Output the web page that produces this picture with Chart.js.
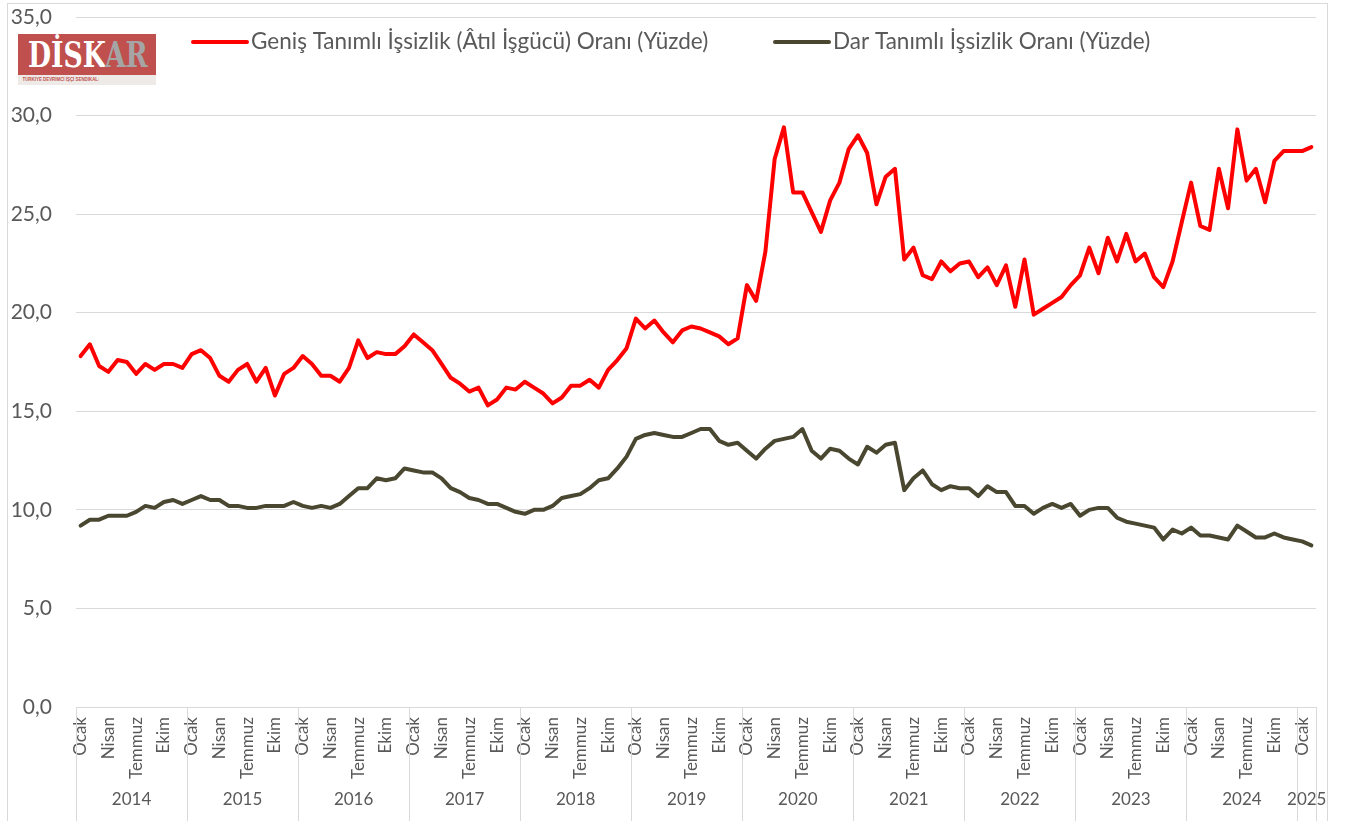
<!DOCTYPE html>
<html lang="tr">
<head>
  <meta charset="UTF-8" />
  <title>Geniş ve Dar Tanımlı İşsizlik Oranı</title>
  <style>
    html, body { margin: 0; padding: 0; background: #fff; }
    #wrap { position: relative; width: 1351px; height: 821px; overflow: hidden; }
    #frame {
      position: absolute; left: 7px; top: 3px; width: 1321px; height: 860px;
      border: 1px solid #d9d9d9; box-sizing: border-box;
    }
    #chart { position: absolute; left: 0; top: 0; }
    #logo {
      position: absolute; left: 18px; top: 34px; width: 138px; height: 51px;
      background: #eeeae8; overflow: hidden;
    }
    #logo .top {
      height: 41px; background: #c0504d; overflow: hidden;
      font-family: "DejaVu Serif", serif; font-weight: bold; font-size: 36px;
      line-height: 41px; white-space: nowrap;
    }
    #logo .top span.w {
      display: inline-block; transform: scaleX(0.74); transform-origin: left center;
      margin-left: 10px; color: #fff;
    }
    #logo .top span.ar { color: #a5a5a5; }
    #logo .sub {
      height: 10px; line-height: 10px; white-space: nowrap; overflow: hidden;
      font-family: "Liberation Sans", sans-serif; font-size: 8px; color: #c0504d;
      transform: scale(0.55, 0.7); transform-origin: 10px center; font-weight: bold;
    }
  </style>
</head>
<body>
  <div id="wrap">
    <div id="frame"></div>
    <canvas id="chart" width="1351" height="821"></canvas>
    <div id="logo">
      <div class="top"><span class="w">DİSK<span class="ar">AR</span></span></div>
      <div class="sub">TÜRKİYE DEVRİMCİ İŞÇİ SENDİKALARI KONFEDERASYONU ARAŞTIRMA MERKEZİ</div>
    </div>
  </div>

  <script src="https://cdn.jsdelivr.net/npm/chart.js"></script>
  <script>
    const years = [2014, 2015, 2016, 2017, 2018, 2019, 2020, 2021, 2022, 2023, 2024, 2025];
    const monthsPerYear = [12, 12, 12, 12, 12, 12, 12, 12, 12, 12, 12, 2];
    const monthNames = ['Ocak', 'Şubat', 'Mart', 'Nisan', 'Mayıs', 'Haziran',
      'Temmuz', 'Ağustos', 'Eylül', 'Ekim', 'Kasım', 'Aralık'];
    const shownMonths = ['Ocak', 'Nisan', 'Temmuz', 'Ekim'];

    // Geniş tanımlı işsizlik (atıl işgücü) oranı, %
    const genis = [
      17.8, 18.4, 17.3, 17.0, 17.6, 17.5, 16.9, 17.4, 17.1, 17.4, 17.4, 17.2,
      17.9, 18.1, 17.7, 16.8, 16.5, 17.1, 17.4, 16.5, 17.2, 15.8, 16.9, 17.2,
      17.8, 17.4, 16.8, 16.8, 16.5, 17.2, 18.6, 17.7, 18.0, 17.9, 17.9, 18.3,
      18.9, 18.5, 18.1, 17.4, 16.7, 16.4, 16.0, 16.2, 15.3, 15.6, 16.2, 16.1,
      16.5, 16.2, 15.9, 15.4, 15.7, 16.3, 16.3, 16.6, 16.2, 17.1, 17.6, 18.2,
      19.7, 19.2, 19.6, 19.0, 18.5, 19.1, 19.3, 19.2, 19.0, 18.8, 18.4, 18.7,
      21.4, 20.6, 23.1, 27.8, 29.4, 26.1, 26.1, 25.1, 24.1, 25.7, 26.6, 28.3,
      29.0, 28.1, 25.5, 26.9, 27.3, 22.7, 23.3, 21.9, 21.7, 22.6, 22.1, 22.5,
      22.6, 21.8, 22.3, 21.4, 22.4, 20.3, 22.7, 19.9, 20.2, 20.5, 20.8, 21.4,
      21.9, 23.3, 22.0, 23.8, 22.6, 24.0, 22.6, 23.0, 21.8, 21.3, 22.6, 24.6,
      26.6, 24.4, 24.2, 27.3, 25.3, 29.3, 26.7, 27.3, 25.6, 27.7, 28.2, 28.2,
      28.2, 28.4
    ];

    // Dar tanımlı işsizlik oranı, %
    const dar = [
      9.2, 9.5, 9.5, 9.7, 9.7, 9.7, 9.9, 10.2, 10.1, 10.4, 10.5, 10.3,
      10.5, 10.7, 10.5, 10.5, 10.2, 10.2, 10.1, 10.1, 10.2, 10.2, 10.2, 10.4,
      10.2, 10.1, 10.2, 10.1, 10.3, 10.7, 11.1, 11.1, 11.6, 11.5, 11.6, 12.1,
      12.0, 11.9, 11.9, 11.6, 11.1, 10.9, 10.6, 10.5, 10.3, 10.3, 10.1, 9.9,
      9.8, 10.0, 10.0, 10.2, 10.6, 10.7, 10.8, 11.1, 11.5, 11.6, 12.1, 12.7,
      13.6, 13.8, 13.9, 13.8, 13.7, 13.7, 13.9, 14.1, 14.1, 13.5, 13.3, 13.4,
      13.0, 12.6, 13.1, 13.5, 13.6, 13.7, 14.1, 13.0, 12.6, 13.1, 13.0, 12.6,
      12.3, 13.2, 12.9, 13.3, 13.4, 11.0, 11.6, 12.0, 11.3, 11.0, 11.2, 11.1,
      11.1, 10.7, 11.2, 10.9, 10.9, 10.2, 10.2, 9.8, 10.1, 10.3, 10.1, 10.3,
      9.7, 10.0, 10.1, 10.1, 9.6, 9.4, 9.3, 9.2, 9.1, 8.5, 9.0, 8.8,
      9.1, 8.7, 8.7, 8.6, 8.5, 9.2, 8.9, 8.6, 8.6, 8.8, 8.6, 8.5,
      8.4, 8.2
    ];

    const labels = [];
    years.forEach((y, k) => {
      for (let m = 0; m < monthsPerYear[k]; m++) labels.push(monthNames[m] + ' ' + y);
    });

    const FONT = 'Lato, "Open Sans", sans-serif';
    const TEXT = '#595959';
    const GRID = '#d9d9d9';

    // legend drawn inside the plot, like the original
    const legendInside = {
      id: 'legendInside',
      afterDraw(chart) {
        const ctx = chart.ctx;
        const spots = [{ x: 193, y: 42 }, { x: 775, y: 42 }];
        ctx.save();
        chart.data.datasets.forEach((ds, i) => {
          const p = spots[i];
          ctx.strokeStyle = ds.borderColor;
          ctx.lineWidth = 4;
          ctx.lineCap = 'round';
          ctx.beginPath();
          ctx.moveTo(p.x, p.y);
          ctx.lineTo(p.x + 54, p.y);
          ctx.stroke();
          ctx.fillStyle = TEXT;
          ctx.font = '22.5px ' + FONT;
          ctx.textBaseline = 'middle';
          ctx.textAlign = 'left';
          ctx.fillText(ds.label, p.x + 58, p.y);
        });
        ctx.restore();
      }
    };

    // year groups under the month labels
    const yearAxis = {
      id: 'yearAxis',
      afterDraw(chart) {
        const ctx = chart.ctx;
        const xs = chart.scales.x;
        const step = xs.getPixelForValue(1) - xs.getPixelForValue(0);
        const top = chart.chartArea.bottom;
        const bottom = chart.height;
        ctx.save();
        ctx.strokeStyle = GRID;
        ctx.lineWidth = 1;
        ctx.fillStyle = TEXT;
        ctx.font = '17px ' + FONT;
        ctx.textAlign = 'center';
        ctx.textBaseline = 'middle';
        let idx = 0;
        years.forEach((y, k) => {
          const left = xs.getPixelForValue(idx) - step / 2;
          const right = xs.getPixelForValue(idx + monthsPerYear[k] - 1) + step / 2;
          ctx.beginPath();
          ctx.moveTo(Math.round(left) + 0.5, top);
          ctx.lineTo(Math.round(left) + 0.5, bottom);
          if (k === years.length - 1) {
            ctx.moveTo(Math.round(right) + 0.5, top);
            ctx.lineTo(Math.round(right) + 0.5, bottom);
          }
          ctx.stroke();
          ctx.fillText(String(y), (left + right) / 2, 800);
          idx += monthsPerYear[k];
        });
        ctx.restore();
      }
    };

    new Chart(document.getElementById('chart'), {
      type: 'line',
      data: {
        labels,
        datasets: [
          {
            label: 'Geniş Tanımlı İşsizlik (Âtıl İşgücü) Oranı (Yüzde)',
            data: genis,
            borderColor: '#ff0000',
            backgroundColor: '#ff0000'
          },
          {
            label: 'Dar Tanımlı İşsizlik Oranı (Yüzde)',
            data: dar,
            borderColor: '#4a4731',
            backgroundColor: '#4a4731'
          }
        ]
      },
      options: {
        responsive: false,
        animation: false,
        layout: { padding: { top: 17, right: 35, bottom: 0, left: 0 } },
        elements: {
          point: { radius: 0 },
          line: { borderWidth: 4, tension: 0, borderJoinStyle: 'round', borderCapStyle: 'round' }
        },
        plugins: {
          legend: { display: false },
          tooltip: { enabled: false }
        },
        scales: {
          x: {
            offset: true,
            grid: { display: false, drawTicks: false, offset: true },
            border: { display: true, color: GRID, width: 1 },
            ticks: {
              autoSkip: false,
              minRotation: 90,
              maxRotation: 90,
              padding: 10,
              color: TEXT,
              font: { family: FONT, size: 17 },
              callback: (v, i) => {
                const name = labels[i].split(' ')[0];
                return shownMonths.includes(name) ? name : '';
              }
            },
            afterFit: s => {
              s.height = 114;
              s.paddingLeft = 0;
              s.paddingRight = 0;
            }
          },
          y: {
            min: 0,
            max: 35,
            ticks: {
              stepSize: 5,
              padding: 24,
              color: TEXT,
              font: { family: FONT, size: 21 },
              callback: v => v.toFixed(1).replace('.', ',')
            },
            grid: { color: GRID, drawTicks: false },
            border: { display: false },
            afterFit: s => {
              s.width = 76;
              s.paddingTop = 0;
              s.paddingBottom = 0;
            }
          }
        }
      },
      plugins: [legendInside, yearAxis]
    });
  </script>
</body>
</html>
